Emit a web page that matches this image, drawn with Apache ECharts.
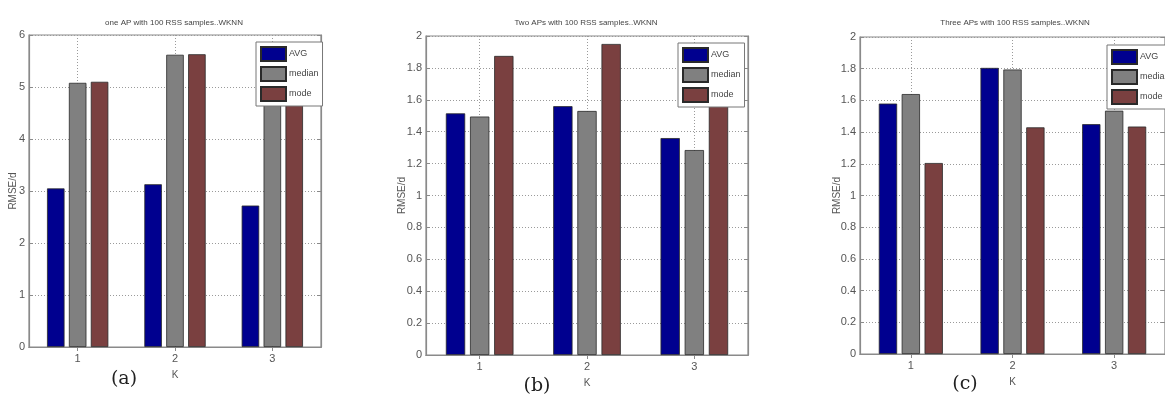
<!DOCTYPE html>
<html>
<head>
<meta charset="utf-8">
<script src="https://cdn.jsdelivr.net/npm/echarts@6/dist/echarts.min.js"></script>
<style>
html,body{margin:0;padding:0;background:#fff;}
#c{width:1165px;height:399px;}
</style>
</head>
<body>
<div id="c"></div>
<script>
// ---- data ----
var categoriesK = ['1', '2', '3'];
var seriesNames = ['AVG', 'median', 'mode'];
var titles = ['one AP with 100 RSS samples..WKNN', 'Two APs with 100 RSS samples..WKNN', 'Three APs with 100 RSS samples..WKNN'];
var panelLabels = ['(a)', '(b)', '(c)'];

var avgA = [3.05, 3.13, 2.72];
var medianA = [5.08, 5.62, 5.30];
var modeA = [5.10, 5.63, 5.10];

var avgB = [1.515, 1.56, 1.36];
var medianB = [1.495, 1.53, 1.285];
var modeB = [1.875, 1.95, 1.65];

var avgC = [1.58, 1.805, 1.45];
var medianC = [1.64, 1.795, 1.535];
var modeC = [1.205, 1.43, 1.435];

var yMax = [6, 2, 2];
var yInterval = [1, 0.2, 0.2];

// ---- layout / style ----
var FONT = '"Liberation Sans Narrow", "Liberation Sans", Arial, sans-serif';
var colors = ['#00008f', '#808080', '#7a4040'];
var grids = [
  {left: 29, top: 35, width: 292, height: 312},
  {left: 426, top: 36, width: 322, height: 319},
  {left: 860, top: 37, width: 312, height: 317}
];
var titlePos = [[174, 23], [586, 23], [1015, 23]];
var labelPos = [[124, 379], [537, 386], [965, 384]];
var legendPos = [[256, 42], [678, 43], [1107, 45]];
var yNameGap = [11, 19, 18];
var panelData = [[avgA, medianA, modeA], [avgB, medianB, modeB], [avgC, medianC, modeC]];

var axisColor = '#8a8a8a';
var textColor = '#555';

var option = {
  backgroundColor: '#fff',
  animation: false,
  color: colors,
  legend: [],
  grid: [],
  xAxis: [],
  yAxis: [],
  series: [],
  graphic: []
};

for (var p = 0; p < 3; p++) {
  option.grid.push({left: grids[p].left, top: grids[p].top, width: grids[p].width, height: grids[p].height,
    show: true, borderColor: axisColor, borderWidth: 1.2, backgroundColor: '#fff', containLabel: false});
  option.graphic.push({type: 'text', x: titlePos[p][0], y: titlePos[p][1], z: 20,
    style: {text: titles[p], textAlign: 'center', textVerticalAlign: 'middle',
      font: '8px ' + FONT, fill: '#444'}});
  option.graphic.push({type: 'text', x: labelPos[p][0], y: labelPos[p][1], z: 20,
    style: {text: panelLabels[p], textAlign: 'center', textVerticalAlign: 'middle',
      font: '19px "DejaVu Serif", "Liberation Serif", serif', fill: '#222'}});
  option.legend.push({
    orient: 'vertical', left: legendPos[p][0], top: legendPos[p][1],
    data: seriesNames, icon: 'rect', itemWidth: 25, itemHeight: 14, itemGap: 4,
    padding: [4, 4, 4, 4], backgroundColor: '#fff', borderColor: '#777', borderWidth: 1,
    selectedMode: false, z: 10,
    textStyle: {fontFamily: FONT, fontSize: 9, color: '#444', padding: [0, 0, 0, -2]}
  });
  // bottom category axis
  option.xAxis.push({
    type: 'category', gridIndex: p, data: categoriesK, position: 'bottom',
    name: 'K', nameLocation: 'middle', nameGap: 23, nameMoveOverlap: false,
    nameTextStyle: {fontFamily: FONT, fontSize: 10, color: textColor},
    axisLine: {show: true, lineStyle: {color: axisColor, width: 1.2}},
    axisTick: {show: true, inside: true, alignWithLabel: true, length: 4, lineStyle: {color: axisColor}},
    axisLabel: {fontFamily: FONT, fontSize: 11, color: textColor, margin: 6},
    splitLine: {show: true, alignWithLabel: true, lineStyle: {type: [1, 2], color: '#9a9a9a', width: 1}}
  });
  // top category axis (ticks only)
  option.xAxis.push({
    type: 'category', gridIndex: p, data: categoriesK, position: 'top',
    axisLine: {show: true, lineStyle: {color: axisColor, width: 1.2}},
    axisTick: {show: true, inside: true, alignWithLabel: true, length: 4, lineStyle: {color: axisColor}},
    axisLabel: {show: false}, splitLine: {show: false}
  });
  // left value axis
  option.yAxis.push({
    type: 'value', gridIndex: p, min: 0, max: yMax[p], interval: yInterval[p], position: 'left',
    name: 'RMSE/d', nameLocation: 'middle', nameGap: yNameGap[p], nameMoveOverlap: false,
    nameTextStyle: {fontFamily: FONT, fontSize: 10, color: textColor},
    axisLine: {show: true, lineStyle: {color: axisColor, width: 1.2}},
    axisTick: {show: true, inside: true, length: 4, lineStyle: {color: axisColor}},
    axisLabel: {fontFamily: FONT, fontSize: 11, color: textColor, margin: 4},
    splitLine: {show: true, lineStyle: {type: [1, 2], color: '#9a9a9a', width: 1}}
  });
  // right value axis (ticks only)
  option.yAxis.push({
    type: 'value', gridIndex: p, min: 0, max: yMax[p], interval: yInterval[p], position: 'right',
    axisLine: {show: true, lineStyle: {color: axisColor, width: 1.2}},
    axisTick: {show: true, inside: true, length: 4, lineStyle: {color: axisColor}},
    axisLabel: {show: false}, splitLine: {show: false}
  });
  for (var s = 0; s < 3; s++) {
    option.series.push({
      type: 'bar', name: seriesNames[s], xAxisIndex: p * 2, yAxisIndex: p * 2,
      data: panelData[p][s], barWidth: '18%', barGap: '25%',
      itemStyle: {color: colors[s], borderColor: '#2a2a2a', borderWidth: 0.8},
      z: 3
    });
  }
}

var chart = echarts.init(document.getElementById('c'), null, {renderer: 'canvas'});
chart.setOption(option);
</script>
</body>
</html>
